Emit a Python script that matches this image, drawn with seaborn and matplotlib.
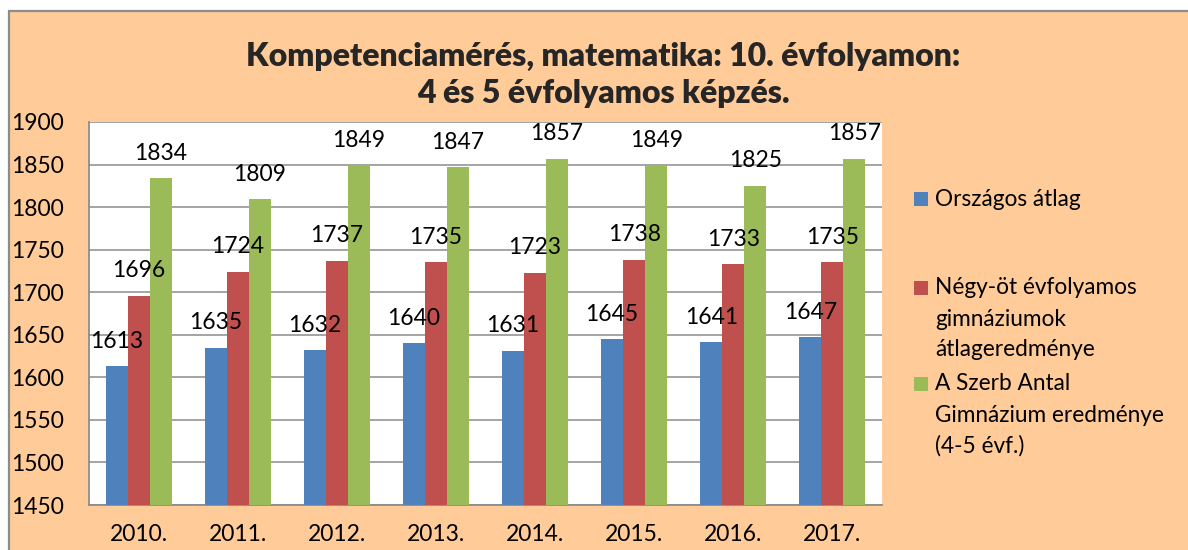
import matplotlib
matplotlib.use("Agg")
import matplotlib.pyplot as plt
from matplotlib.patches import Rectangle
import seaborn as sns
import pandas as pd

years = ["2010.", "2011.", "2012.", "2013.", "2014.", "2015.", "2016.", "2017."]
series_names = [
    "Országos átlag",
    "Négy-öt évfolyamos\ngimnáziumok\nátlageredménye",
    "A Szerb Antal\nGimnázium eredménye\n(4-5 évf.)",
]
orszagos = [1613, 1635, 1632, 1640, 1631, 1645, 1641, 1647]
negy_ot = [1696, 1724, 1737, 1735, 1723, 1738, 1733, 1735]
szerb = [1834, 1809, 1849, 1847, 1857, 1849, 1825, 1857]
colors = ["#4F81BD", "#C0504D", "#9BBB59"]
yticks = [1450, 1500, 1550, 1600, 1650, 1700, 1750, 1800, 1850, 1900]
title = "Kompetenciamérés, matematika: 10. évfolyamon:\n4 és 5 évfolyamos képzés."

rows = []
for name, vals in zip(series_names, [orszagos, negy_ot, szerb]):
    for y, v in zip(years, vals):
        rows.append({"year": y, "series": name, "value": v})
df = pd.DataFrame(rows)

sns.set_theme(style="white")
plt.rcParams["font.family"] = ["Lato", "DejaVu Sans"]

W, H = 1188, 550
fig = plt.figure(figsize=(W / 100, H / 100), dpi=100, facecolor="white")

# peach chart-area background with grey left/top border
bg = Rectangle((9 / W, -0.2), 1.5, 1.2 - 11 / H, transform=fig.transFigure,
               facecolor="#FFCB99", edgecolor="#8C8C8C", linewidth=1.6, zorder=-10)
fig.patches.append(bg)

ax = fig.add_axes([89 / W, 1 - 505 / H, (882 - 89) / W, (505 - 122) / H])
ax.set_facecolor("white")

sns.barplot(data=df, x="year", y="value", hue="series", order=years,
            hue_order=series_names, palette=colors, width=0.667, gap=0,
            saturation=1, legend=False, ax=ax, edgecolor="none", zorder=3)

ax.set_ylim(1450, 1900)
ax.set_yticks(yticks)
ax.set_yticklabels([str(t) for t in yticks])
ax.tick_params(axis="both", length=0, labelsize=16.5, colors="black")
ax.tick_params(axis="y", pad=18)
ax.tick_params(axis="x", pad=14)
ax.set_xlabel("")
ax.set_ylabel("")
ax.yaxis.grid(True, color="#8C8C8C", linewidth=1.1, zorder=0)
ax.set_axisbelow(True)
for s in ["top", "right"]:
    ax.spines[s].set_visible(False)
for s in ["left", "bottom"]:
    ax.spines[s].set_color("#8C8C8C")
    ax.spines[s].set_linewidth(1.3)

for cont in ax.containers:
    for bar in cont:
        h = bar.get_height()
        ax.annotate(f"{int(round(h))}", (bar.get_x() + bar.get_width() / 2, h),
                    xytext=(0, 18), textcoords="offset points",
                    ha="center", va="center", fontsize=16.5, color="black",
                    zorder=5)

fig.text(603 / W, 1 - 75 / H, title, ha="center", va="center",
         fontsize=23, fontweight="heavy", linespacing=1.3)

# legend
first_line_y = [199, 288, 384]
line_step = 31
for name, col, y0 in zip(series_names, colors, first_line_y):
    fig.patches.append(Rectangle((914 / W, 1 - (y0 + 7) / H), 14 / W, 14 / H,
                                 transform=fig.transFigure, facecolor=col,
                                 edgecolor="none"))
    for i, line in enumerate(name.split("\n")):
        fig.text(935 / W, 1 - (y0 + i * line_step) / H, line, ha="left",
                 va="center", fontsize=16.3, color="black")

fig.savefig("out.png", dpi=100, facecolor="white")
